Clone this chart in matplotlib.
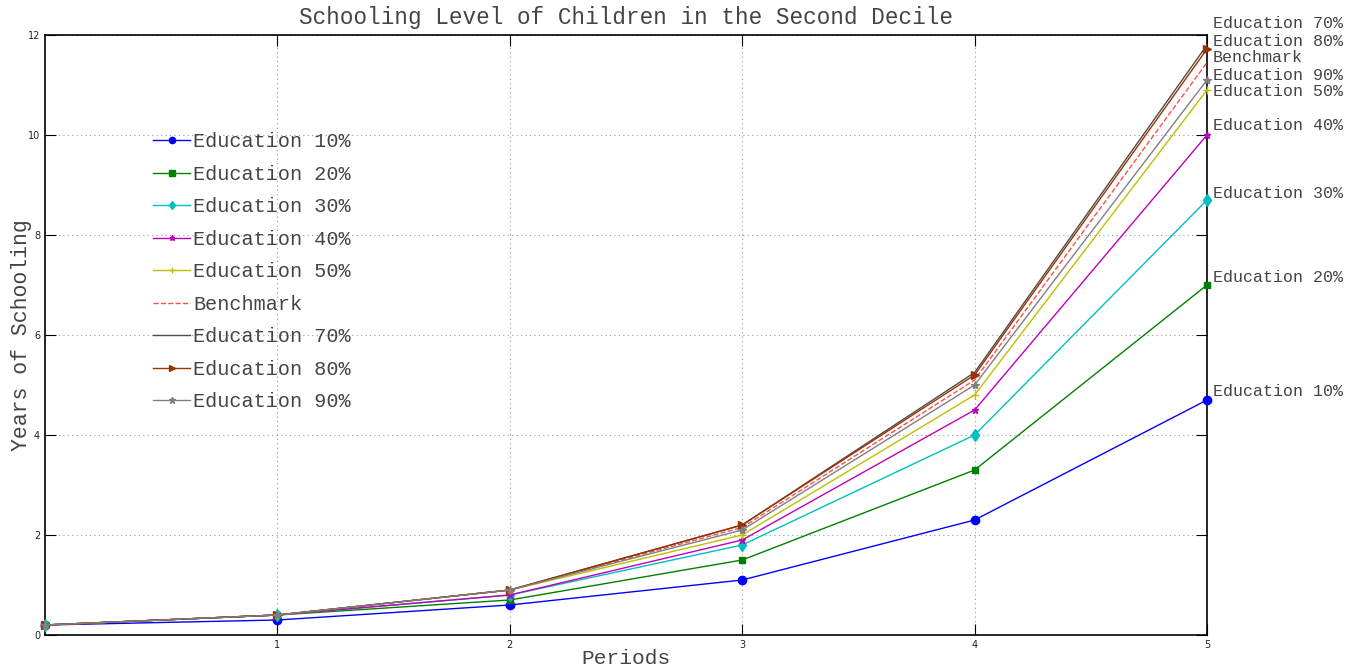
import matplotlib
matplotlib.use("Agg")
import matplotlib.pyplot as plt

# Schooling by period for each education subsidy level
periods = [0, 1, 2, 3, 4, 5]
edu10 = [0.2, 0.3, 0.6, 1.1, 2.3, 4.7]
edu20 = [0.2, 0.4, 0.7, 1.5, 3.3, 7.0]
edu30 = [0.2, 0.4, 0.8, 1.8, 4.0, 8.7]
edu40 = [0.2, 0.4, 0.8, 1.9, 4.5, 10.0]
edu50 = [0.2, 0.4, 0.9, 2.0, 4.8, 10.9]
benchmark = [0.2, 0.4, 0.9, 2.15, 5.1, 11.45]
edu70 = [0.2, 0.4, 0.9, 2.2, 5.25, 11.8]
edu80 = [0.2, 0.4, 0.9, 2.2, 5.2, 11.72]
edu90 = [0.2, 0.4, 0.9, 2.1, 5.0, 11.1]

x_ticks = [1, 2, 3, 4, 5]
y_ticks = [0, 2, 4, 6, 8, 10, 12]

MONO = "Liberation Mono"
TXT = "#444444"

series = [
    ("Education 10%", edu10, dict(color=(0, 0, 1), marker="o", ms=6), 4.86),
    ("Education 20%", edu20, dict(color=(0, 0.5, 0), marker="s", ms=5), 7.16),
    ("Education 30%", edu30, dict(color=(0, 0.75, 0.75), marker="d", ms=6), 8.84),
    ("Education 40%", edu40, dict(color=(0.75, 0, 0.75), marker="*", ms=5), 10.18),
    ("Education 50%", edu50, dict(color=(0.75, 0.75, 0), marker="+", ms=6), 10.86),
    ("Benchmark", benchmark, dict(color=(1, 0.3, 0.3), ls="--", lw=1.0), 11.54),
    ("Education 70%", edu70, dict(color=(0.3, 0.3, 0.3)), 12.22),
    ("Education 80%", edu80, dict(color=(0.6, 0.2, 0), marker=">", ms=6), 11.88),
    ("Education 90%", edu90, dict(color=(0.5, 0.5, 0.5), marker="*", ms=6), 11.2),
]

fig = plt.figure(figsize=(13.6, 6.7), dpi=100)
ax = fig.add_axes([45 / 1360, 35 / 670, 1162 / 1360, 600 / 670])

for name, ys, style, ylab in series:
    kw = dict(lw=1.0)
    kw.update(style)
    ax.plot(periods, ys, label=name, clip_on=False, zorder=3, **kw)
    ax.text(5.025, ylab, name, fontfamily=MONO, fontsize=12, color=TXT,
            va="center", ha="left")

ax.set_xlim(0, 5)
ax.set_ylim(0, 12)
ax.set_xticks(x_ticks)
ax.set_yticks(y_ticks)
ax.grid(True, ls=(0, (1, 3)), color="#999999", lw=0.8)
ax.tick_params(direction="in", length=8, labelsize=7, top=True, right=True,
               labelcolor="#222222")
for s in ax.spines.values():
    s.set_linewidth(1.2)

ax.set_title("Schooling Level of Children in the Second Decile",
             fontfamily=MONO, fontsize=16.3, color=TXT, pad=8)
ax.set_xlabel("Periods", fontfamily=MONO, fontsize=15.3, color=TXT)
ax.set_ylabel("Years of Schooling", fontfamily=MONO, fontsize=15.5, color=TXT)
ax.xaxis.set_label_coords(0.5, -0.023)
ax.yaxis.set_label_coords(-0.011, 0.5)

leg = ax.legend(loc="upper left", bbox_to_anchor=(0.093, 0.838), frameon=False,
                prop={"family": MONO, "size": 14.5}, labelspacing=0.67,
                handlelength=1.85, handletextpad=0.15, borderpad=0,
                borderaxespad=0, markerscale=0.75)
for t in leg.get_texts():
    t.set_color(TXT)

fig.savefig("out.png", dpi=100)
